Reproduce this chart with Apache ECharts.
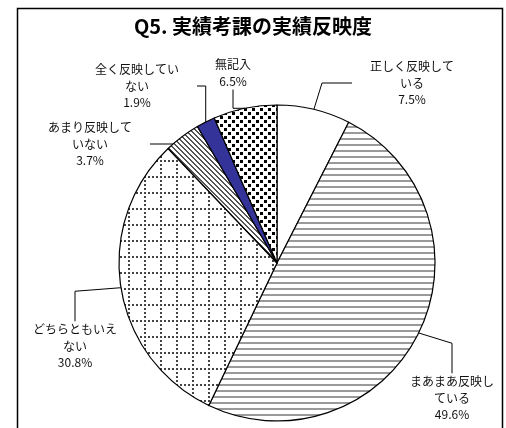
<!DOCTYPE html>
<html>
<head>
<meta charset="utf-8">
<script src="https://cdn.jsdelivr.net/npm/echarts@6/dist/echarts.min.js"></script>
<style>
html, body { margin: 0; padding: 0; background: #fff; }
#chart { width: 506px; height: 428px; }
</style>
</head>
<body>
<div id="chart"></div>
<script>
// data
const titleText = 'Q5. 実績考課の実績反映度'
const categories = ['正しく反映している', 'まあまあ反映している', 'どちらともいえない', 'あまり反映していない', '全く反映していない', '無記入']
const percents = [7.5, 49.6, 30.8, 3.7, 1.9, 6.5]

// where each label block is centred (px)
const labelPos = [[412, 83], [452, 398], [75, 346], [90, 144], [137, 86], [233, 73]]

const font = '"Noto Sans CJK JP", "Noto Sans", sans-serif'

function pattern (w, h, draw) {
  const c = document.createElement('canvas')
  c.width = w
  c.height = h
  const ctx = c.getContext('2d')
  ctx.fillStyle = '#fff'
  ctx.fillRect(0, 0, w, h)
  draw(ctx)
  return { image: c, repeat: 'repeat' }
}

const fills = [
  '#ffffff',
  // horizontal stripes
  pattern(6, 6, ctx => {
    ctx.fillStyle = '#9a9a9a'
    ctx.fillRect(0, 0, 6, 2)
  }),
  // dotted grid
  pattern(16, 16, ctx => {
    ctx.fillStyle = '#444'
    for (let i = 0; i < 16; i += 4) {
      ctx.fillRect(i, 0, 2, 2)
      ctx.fillRect(0, i, 2, 2)
    }
  }),
  // diagonal stripes
  pattern(5, 5, ctx => {
    ctx.fillStyle = '#555'
    for (let i = 0; i < 5; i++) {
      ctx.fillRect(i, i, 1, 1)
      ctx.fillRect((i + 1) % 5, i, 1, 1)
    }
  }),
  '#333399',
  // dots
  pattern(8, 8, ctx => {
    ctx.fillStyle = '#000'
    ctx.fillRect(0, 0, 3, 3)
    ctx.fillRect(4, 4, 3, 3)
  })
]

function wrap (s) {
  return s.length > 7 ? s.slice(0, 7) + '\n' + s.slice(7) : s
}

const chart = echarts.init(document.getElementById('chart'))
chart.setOption({
  backgroundColor: '#fff',
  animation: false,
  title: {
    text: titleText,
    left: 'center',
    top: 11,
    textStyle: { fontSize: 20, fontWeight: 'bold', color: '#000', fontFamily: font }
  },
  graphic: [{
    type: 'rect',
    shape: { x: 17.5, y: 8.5, width: 485, height: 440 },
    style: { fill: 'transparent', stroke: '#000', lineWidth: 1.5 },
    z: 100
  }],
  series: [{
    type: 'pie',
    center: [277, 263],
    radius: 158,
    startAngle: 90,
    clockwise: true,
    data: categories.map((name, i) => ({
      name: name,
      value: percents[i],
      itemStyle: { color: fills[i] }
    })),
    itemStyle: { borderColor: '#000', borderWidth: 1.2 },
    label: {
      show: true,
      position: 'outside',
      overflow: 'none',
      fontSize: 12,
      lineHeight: 16.5,
      color: '#111',
      fontFamily: font,
      align: 'center',
      formatter: p => wrap(p.name) + '\n' + p.value.toFixed(1) + '%'
    },
    labelLine: {
      show: true,
      lineStyle: { color: '#000', width: 1 }
    },
    labelLayout: params => {
      const pos = labelPos[params.dataIndex]
      return { x: pos[0], y: pos[1], align: 'center', verticalAlign: 'middle', width: 120 }
    },
    emphasis: { disabled: true }
  }]
})
</script>
</body>
</html>
